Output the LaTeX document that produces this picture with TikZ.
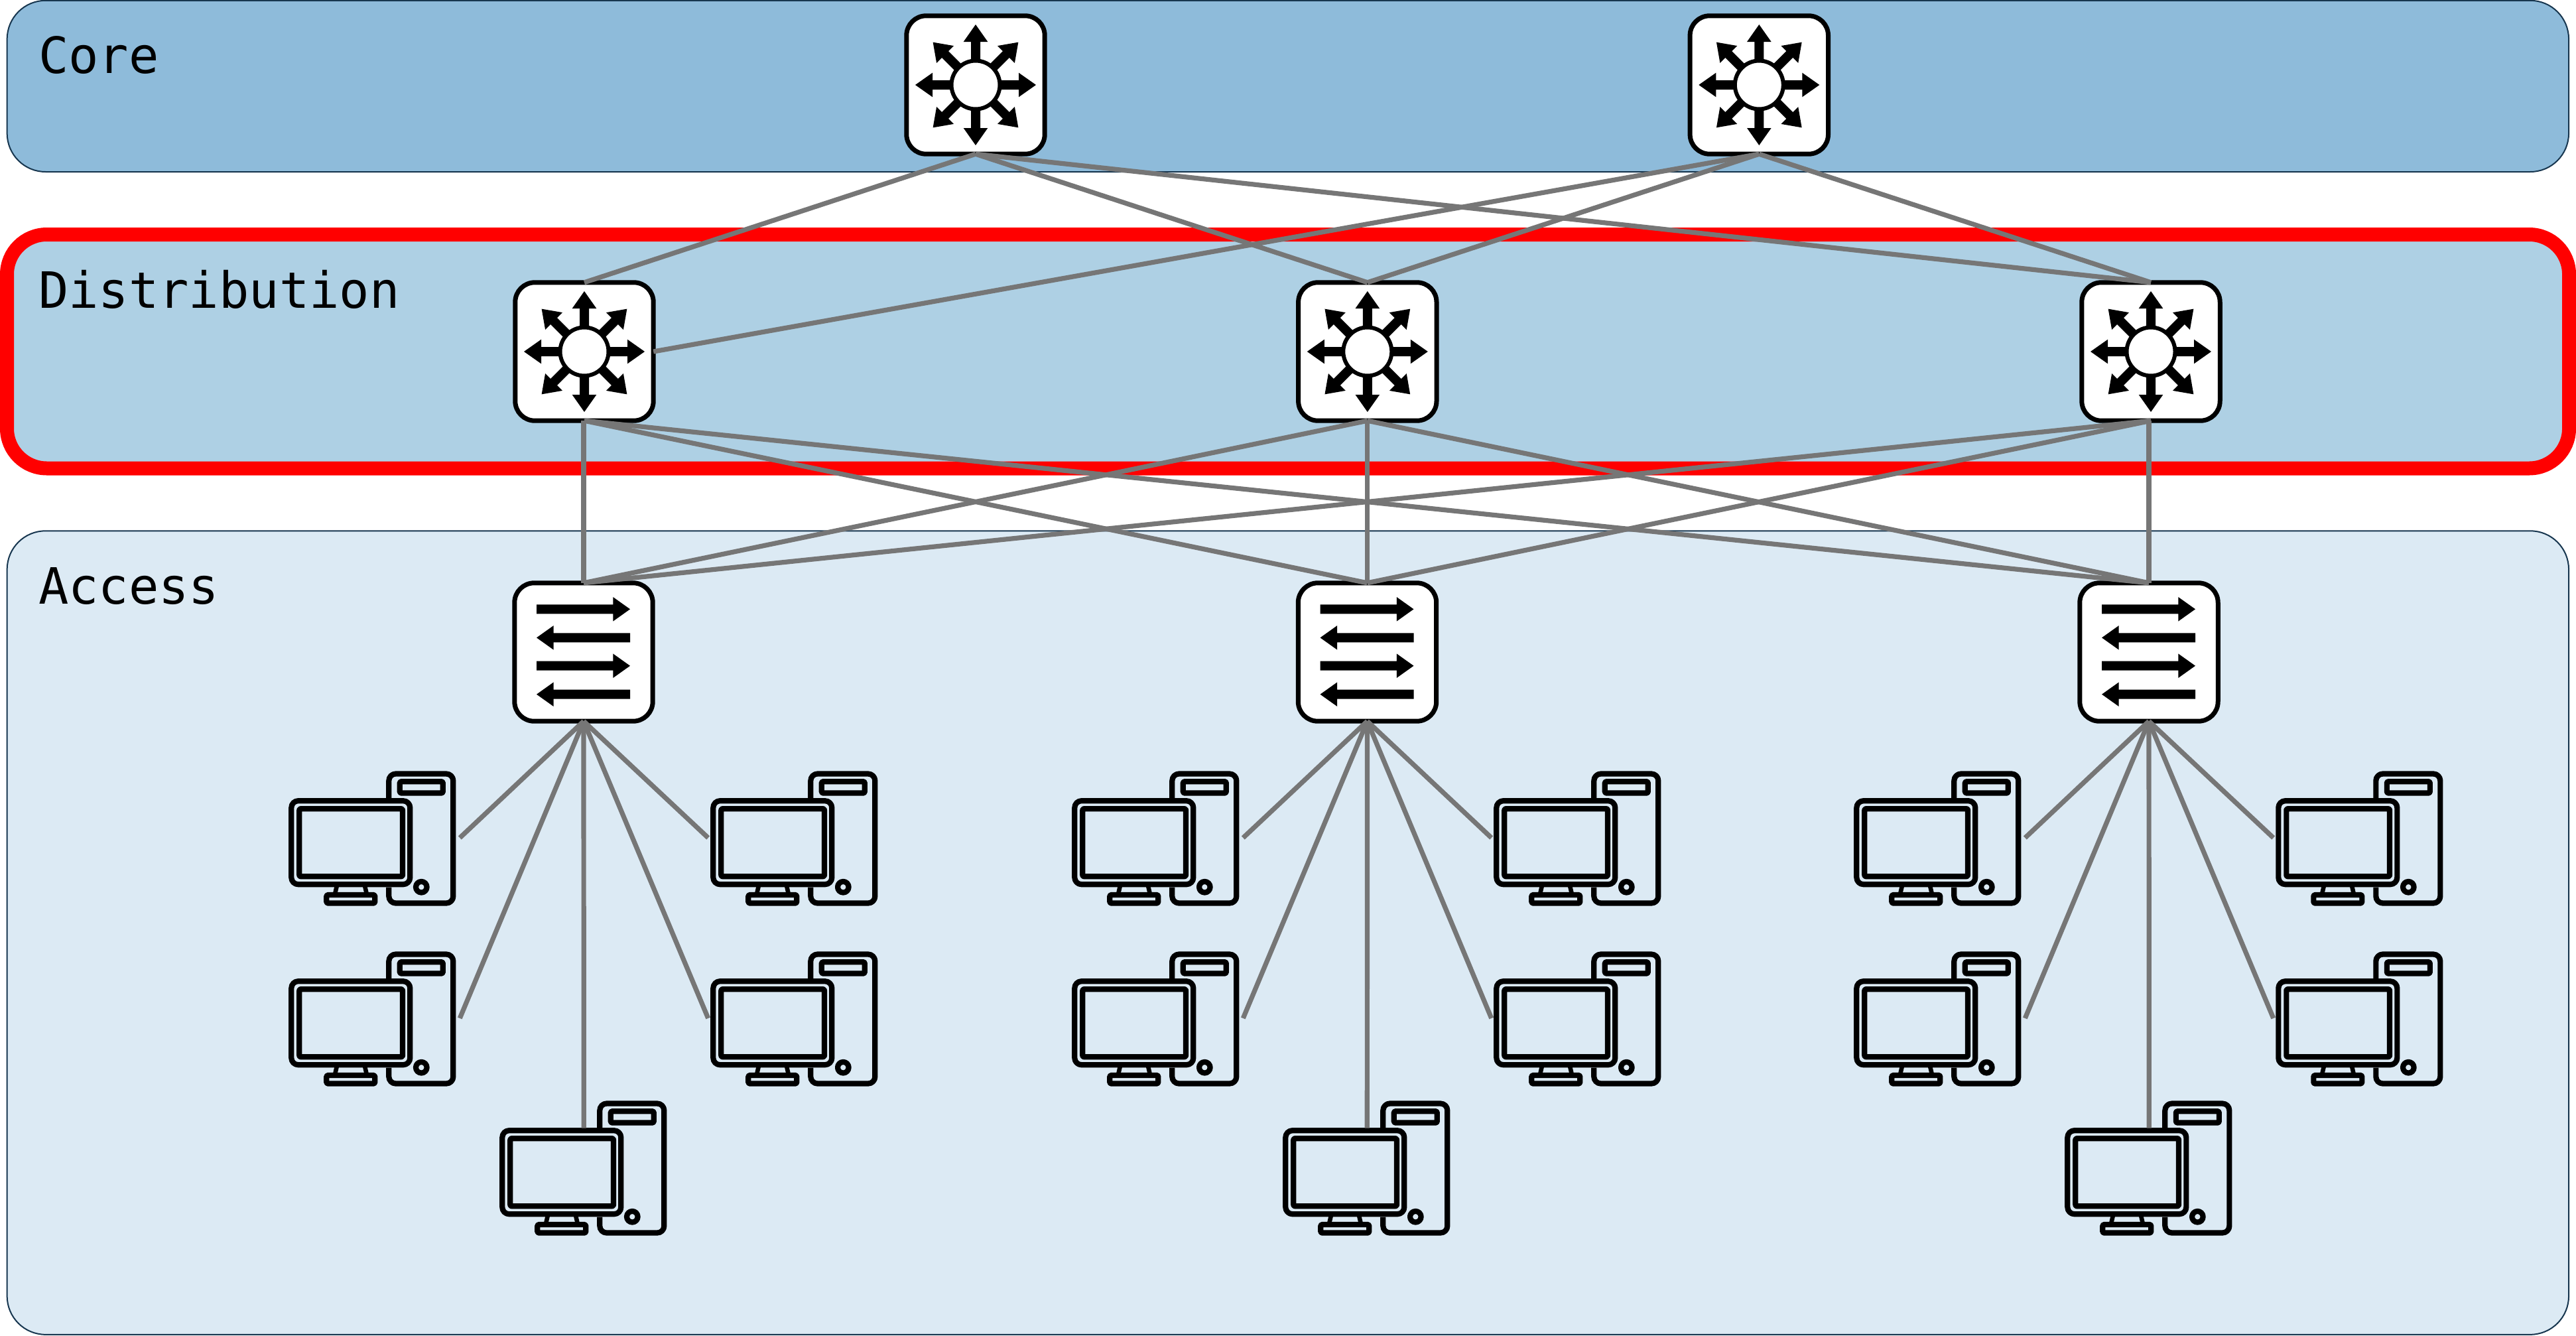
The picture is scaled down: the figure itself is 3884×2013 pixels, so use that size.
\documentclass[tikz,border=0pt]{standalone}
\usepackage{fontspec}
\newfontfamily\labelfont{DejaVu Sans Mono}
\definecolor{corefill}{HTML}{8EBBDA}
\definecolor{distfill}{HTML}{AED0E4}
\definecolor{accfill}{HTML}{DCEAF4}
\definecolor{bandline}{HTML}{17364F}
\definecolor{linkgray}{HTML}{767676}
\tikzset{
  band/.style={draw=bandline,line width=0.5pt,rounded corners=14.5pt},
  redband/.style={draw=red,fill=distfill,line width=5.25pt,rounded corners=15pt},
  devbox/.style={draw=black,fill=white,line width=1.75pt,rounded corners=7.4pt,minimum size=52.1pt,inner sep=0pt,outer sep=0pt},
  link/.style={draw=linkgray,line width=1.8pt},
  bandlabel/.style={anchor=base west,inner sep=0pt,outer sep=0pt,font=\labelfont\fontsize{18.85pt}{22pt}\selectfont},
  pcline/.style={draw=black,line width=2.05pt,line join=round}
}
\newcommand{\routericon}[1]{%
  \begin{scope}[shift={(#1)}]
    \foreach \a in {0,45,...,315}{
      \fill[black,rotate=\a] (30,-7) -- (65,-7) -- (65,-18.3) -- (91,0) -- (65,18.3) -- (65,7) -- (30,7) -- cycle;
    }
    \draw[fill=white,draw=black,line width=1.5pt] (0,0) circle [radius=36.5];
  \end{scope}}
\newcommand{\switchicon}[1]{%
  \begin{scope}[shift={(#1)}]
    \foreach \y in {-64.7,20.7}{
      \fill[black] (-71,\y-7) -- (44.3,\y-7) -- (44.3,\y-18.3) -- (70,\y) -- (44.3,\y+18.3) -- (44.3,\y+7) -- (-71,\y+7) -- cycle;
    }
    \foreach \y in {-21.7,63.7}{
      \fill[black] (70,\y-7) -- (-45.3,\y-7) -- (-45.3,\y-18.3) -- (-71,\y) -- (-45.3,\y+18.3) -- (-45.3,\y+7) -- (70,\y+7) -- cycle;
    }
  \end{scope}}
\newcommand{\pcicon}[3]{%
  \begin{scope}[shift={(#2,#3)}]
    \coordinate (#1r) at (258,100.5);
    \coordinate (#1l) at (-3.6,100.5);
    \coordinate (#1t) at (127,41);
    \draw[pcline,rounded corners=2.6pt] (151,41) -- (151,4) -- (248,4) -- (248,199) -- (151,199) -- (151,175);
    \draw[pcline,rounded corners=2.6pt] (4,44.7) rectangle (183,170.7);
    \draw[pcline,rounded corners=0.5pt] (16,56.7) rectangle (171.7,158.7);
    \draw[pcline,rounded corners=0.4pt] (167.5,15.7) rectangle (232.5,33);
    \draw[pcline] (200,174.7) circle [radius=8.3];
    \draw[pcline,rounded corners=0.4pt] (57,186.5) rectangle (130,199);
    \draw[pcline,line width=1.65pt] (72.3,174) -- (70,184);
    \draw[pcline,line width=1.65pt] (115,174) -- (117.3,184);
  \end{scope}}
\begin{document}
\begin{tikzpicture}[x=0.25pt,y=-0.25pt]
\useasboundingbox (0,0) rectangle (3884,2013);
% bands
\draw[band,fill=corefill] (10.7,0.8) rectangle (3873,259);
\draw[redband] (10.5,353.5) rectangle (3873.5,706);
\draw[band,fill=accfill] (10.7,800.3) rectangle (3873,2011.8);
\node[bandlabel] (lblcore) at (58,110.5) {Core};
\node[bandlabel] (lbldist) at (58,464) {Distribution};
\node[bandlabel] (lblacc) at (58,910.5) {Access};
% devices
\node[devbox] (c1) at (1471,128) {};
\node[devbox] (c2) at (2652.3,128) {};
\node[devbox] (d1) at (881,530) {};
\node[devbox] (d2) at (2061.8,530) {};
\node[devbox] (d3) at (3243,530) {};
\node[devbox] (a1) at (880,983) {};
\node[devbox] (a2) at (2061.5,983) {};
\node[devbox] (a3) at (3240,983) {};
\routericon{1471,128}
\routericon{2652.3,128}
\routericon{881,530}
\routericon{2061.8,530}
\routericon{3243,530}
\switchicon{880,983}
\switchicon{2061.5,983}
\switchicon{3240,983}
% computers
\foreach \g/\dx in {1/0,2/1181,3/2360}{
  \pgfmathsetmacro{\xa}{435.3+\dx}
  \pgfmathsetmacro{\xb}{435.3+\dx+636}
  \pgfmathsetmacro{\xc}{435.3+\dx+318}
  \pcicon{p\g a}{\xa}{1162.5}
  \pcicon{p\g b}{\xb}{1162.5}
  \pcicon{p\g c}{\xa}{1434.5}
  \pcicon{p\g d}{\xb}{1434.5}
  \pcicon{p\g e}{\xc}{1659.5}
}
% links core to distribution
\draw[link] (c1.south) -- (d1.north);
\draw[link] (c1.south) -- (d2.north);
\draw[link] (c1.south) -- (d3.north);
\draw[link] (c2.south) -- (d1.east);
\draw[link] (c2.south) -- (d2.north);
\draw[link] (c2.south) -- (d3.north);
% links distribution to access
\draw[link] (d1.south) -- (a2.north);
\draw[link] (d1.south) -- (a3.north);
\draw[link] (d2.south) -- (a1.north);
\draw[link] (d2.south) -- (a3.north);
\draw[link] (d3.south) -- (a1.north);
\draw[link] (d3.south) -- (a2.north);
\draw[link] (a1.north |- d1.south) -- (a1.north);
\draw[link] (a2.north |- d2.south) -- (a2.north);
\draw[link] (a3.north |- d3.south) -- (a3.north);
% links access to computers
\foreach \g in {1,2,3}{
  \draw[link] (a\g.south) -- (p\g ar);
  \draw[link] (a\g.south) -- (p\g cr);
  \draw[link] (a\g.south) -- (p\g bl);
  \draw[link] (a\g.south) -- (p\g dl);
  \draw[link] (a\g.south) -- (p\g et);
}
\end{tikzpicture}
\end{document}
